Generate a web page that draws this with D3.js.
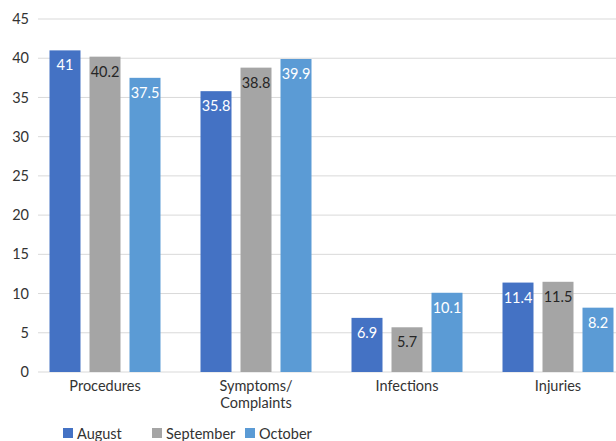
<!DOCTYPE html>
<html>
<head>
<meta charset="utf-8">
<script src="https://cdn.jsdelivr.net/npm/d3@7"></script>
<style>
  body { margin: 0; background: #fff; }
  text { font-family: Lato, "Open Sans", sans-serif; }
</style>
</head>
<body>
<div class="chart"></div>
<script>
// data
var categories = ["Procedures", "Symptoms/\nComplaints", "Infections", "Injuries"];
var seriesNames = ["August", "September", "October"];
var august = [41, 35.8, 6.9, 11.4];
var september = [40.2, 38.8, 5.7, 11.5];
var october = [37.5, 39.9, 10.1, 8.2];
var yTicks = [0, 5, 10, 15, 20, 25, 30, 35, 40, 45];

var colors = ["#4472C4", "#A5A5A5", "#5B9BD5"];
var labelColors = ["#ffffff", "#262626", "#ffffff"];

var svgWidth = 616;
var svgHeight = 441;

var svg = d3.select(".chart")
  .append("svg")
  .attr("width", svgWidth)
  .attr("height", svgHeight);

// scales
var yScale = d3.scaleLinear()
  .domain([0, 45])
  .range([372, 19]);

var xBand = d3.scaleBand()
  .domain(categories)
  .range([29.5, 633.5])
  .paddingInner(0)
  .paddingOuter(0);

var xInner = d3.scaleBand()
  .domain(seriesNames)
  .range([20, xBand.bandwidth() - 20])
  .paddingInner(0.225);

// gridlines
svg.append("g")
  .selectAll("line")
  .data(yTicks)
  .enter()
  .append("line")
  .attr("x1", 38)
  .attr("x2", svgWidth)
  .attr("y1", d => yScale(d))
  .attr("y2", d => yScale(d))
  .attr("stroke", "#d9d9d9")
  .attr("stroke-width", 1);

// y labels
svg.append("g")
  .selectAll("text")
  .data(yTicks)
  .enter()
  .append("text")
  .attr("x", 29)
  .attr("y", d => yScale(d))
  .attr("dy", "0.35em")
  .attr("text-anchor", "end")
  .style("font-size", "14.5px")
  .attr("fill", "#333")
  .text(d => d);

// bars
var tableData = categories.map(function (c, i) {
  return {
    cat: c,
    values: [august[i], september[i], october[i]]
  };
});

var groups = svg.selectAll(".group")
  .data(tableData)
  .enter()
  .append("g")
  .attr("class", "group")
  .attr("transform", d => `translate(${xBand(d.cat)},0)`);

groups.selectAll("rect")
  .data(d => d.values.map((v, j) => ({ name: seriesNames[j], value: v, j: j })))
  .enter()
  .append("rect")
  .attr("x", d => xInner(d.name))
  .attr("width", xInner.bandwidth())
  .attr("y", d => yScale(d.value))
  .attr("height", d => yScale(0) - yScale(d.value))
  .style("fill", d => colors[d.j]);

groups.selectAll(".val")
  .data(d => d.values.map((v, j) => ({ name: seriesNames[j], value: v, j: j })))
  .enter()
  .append("text")
  .attr("class", "val")
  .attr("x", d => xInner(d.name) + xInner.bandwidth() / 2)
  .attr("y", d => yScale(d.value) + 20)
  .attr("text-anchor", "middle")
  .style("font-size", "14.5px")
  .attr("fill", d => labelColors[d.j])
  .text(d => d.value);

// category labels
groups.append("text")
  .attr("x", xBand.bandwidth() / 2)
  .attr("y", 391)
  .attr("text-anchor", "middle")
  .style("font-size", "14.5px")
  .attr("fill", "#333")
  .selectAll("tspan")
  .data(d => d.cat.split("\n"))
  .enter()
  .append("tspan")
  .attr("x", xBand.bandwidth() / 2)
  .attr("dy", (d, i) => i === 0 ? 0 : 17)
  .text(d => d);

// legend
var legendX = [63, 152, 245];
var legend = svg.append("g");
seriesNames.forEach(function (name, i) {
  legend.append("rect")
    .attr("x", legendX[i])
    .attr("y", 428)
    .attr("width", 10)
    .attr("height", 10)
    .style("fill", colors[i]);
  legend.append("text")
    .attr("x", legendX[i] + 14)
    .attr("y", 439)
    .style("font-size", "14.5px")
    .attr("fill", "#333")
    .text(name);
});
</script>
</body>
</html>
